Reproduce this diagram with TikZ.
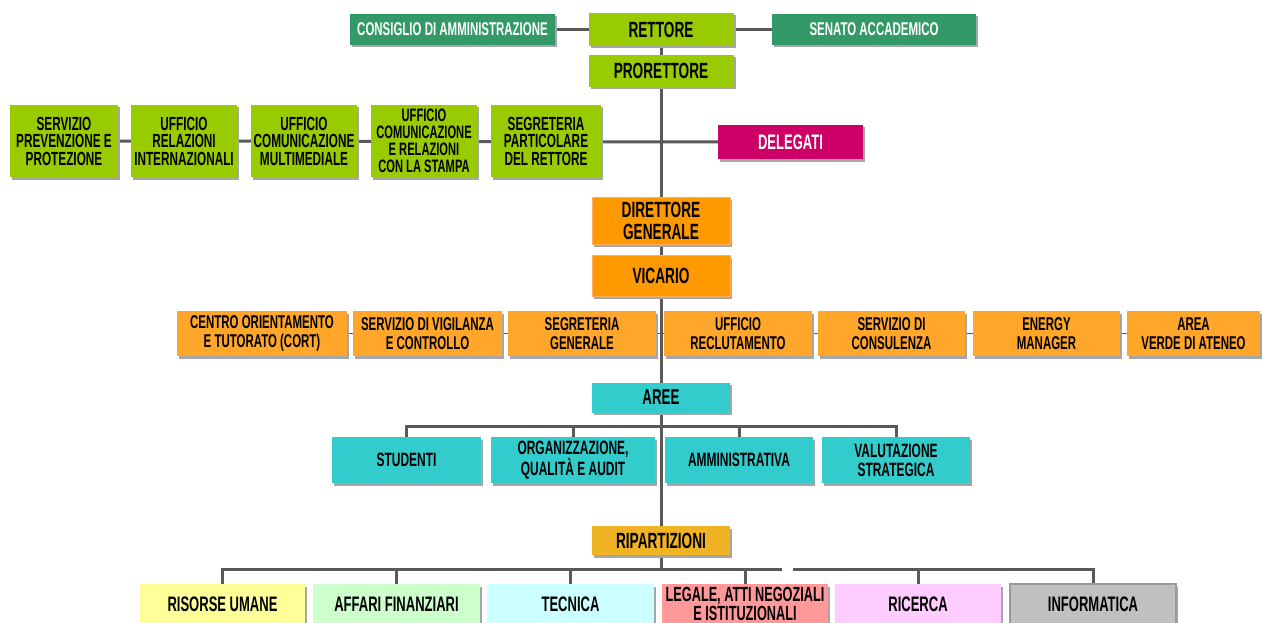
\documentclass[tikz,border=0pt]{standalone}
\usepackage{fontspec}
\newfontfamily\cf[FakeStretch=0.62]{Liberation Sans}
\usetikzlibrary{shadows}
\definecolor{lgreen}{HTML}{99CC00}
\definecolor{dgreen}{HTML}{339966}
\definecolor{magen}{HTML}{CC0066}
\definecolor{dorange}{HTML}{FF9900}
\definecolor{dorborder}{HTML}{FFB066}
\definecolor{lorange}{HTML}{FFA62B}
\definecolor{cyanbox}{HTML}{33CCCC}
\definecolor{gold}{HTML}{F0B323}
\definecolor{cyel}{HTML}{FFFF99}
\definecolor{cgrn}{HTML}{CCFFCC}
\definecolor{ccya}{HTML}{CCFFFF}
\definecolor{cred}{HTML}{FF9999}
\definecolor{cpnk}{HTML}{FFCCFF}
\definecolor{cgry}{HTML}{C0C0C0}
\definecolor{cgryb}{HTML}{999999}
\definecolor{linegray}{HTML}{595959}
\pgfdeclarelayer{bg}
\pgfsetlayers{bg,main}
\begin{document}
\begin{tikzpicture}[x=1pt,y=-1pt,
  box/.style={inner sep=0pt, outer sep=0pt, align=center,
    drop shadow={shadow xshift=2pt,shadow yshift=-2.5pt,fill=black!35,opacity=1}},
  fs/.style 2 args={font={\cf\bfseries\fontsize{#1}{#2}\selectfont}},
  sz/.style 2 args={minimum width=#1pt, minimum height=#2pt},
  gbox/.style={box, fill=lgreen, text=black},
  dbox/.style={box, fill=dgreen, text=white},
  mbox/.style={box, fill=magen, text=white},
  obox/.style={box, fill=dorange, draw=dorborder, line width=1pt, text=black},
  lobox/.style={box, fill=lorange, text=black},
  cbox/.style={box, fill=cyanbox, text=black},
  rbox/.style={box, fill=gold, text=black},
  conn/.style={draw=linegray, line width=3pt},
  thinconn/.style={draw=linegray, line width=1.5pt}
]
\useasboundingbox (0,0) rectangle (1263,623);

% top
\node[dbox,fs={18.5}{20},sz={205}{31}] (cons) at (452.5,29.5) {CONSIGLIO DI AMMINISTRAZIONE};
\node[gbox,fs={22}{24},sz={145}{33}] (rett) at (661,29.5) {RETTORE};
\node[dbox,fs={18.5}{20},sz={204}{31}] (sen) at (874,29.5) {SENATO ACCADEMICO};
\node[gbox,fs={22}{24},sz={145}{32}] (pror) at (661,71) {PRORETTORE};

% green row
\node[gbox,fs={19}{17.5},sz={108}{72}] (g1) at (64,141) {SERVIZIO\\PREVENZIONE E\\PROTEZIONE};
\node[gbox,fs={19}{17.5},sz={106}{72}] (g2) at (184,141) {UFFICIO\\RELAZIONI\\INTERNAZIONALI};
\node[gbox,fs={19}{17.5},sz={106}{72}] (g3) at (304,141) {UFFICIO\\COMUNICAZIONE\\MULTIMEDIALE};
\node[gbox,fs={18}{17},sz={106}{72}] (g4) at (424,141) {UFFICIO\\COMUNICAZIONE\\E RELAZIONI\\CON LA STAMPA};
\node[gbox,fs={19}{17.5},sz={110}{72}] (g5) at (546,141) {SEGRETERIA\\PARTICOLARE\\DEL RETTORE};
\node[mbox,fs={21}{22},sz={145}{34}] (deleg) at (790.5,142) {DELEGATI};

% direzione
\node[obox,fs={22}{22},sz={138}{47}] (dir) at (661,220.5) {DIRETTORE\\GENERALE};
\node[obox,fs={22}{24},sz={138}{41}] (vic) at (661,275.5) {VICARIO};

% orange row
\node[lobox,fs={18.5}{18.5},sz={170}{45}] (o1) at (262,333.5) {CENTRO ORIENTAMENTO\\E TUTORATO (CORT)};
\node[lobox,fs={18.5}{18.5},sz={149}{45}] (o2) at (427.5,333.5) {SERVIZIO DI VIGILANZA\\E CONTROLLO};
\node[lobox,fs={18.5}{18.5},sz={148}{45}] (o3) at (582,333.5) {SEGRETERIA\\GENERALE};
\node[lobox,fs={18.5}{18.5},sz={148}{45}] (o4) at (738,333.5) {UFFICIO\\RECLUTAMENTO};
\node[lobox,fs={18.5}{18.5},sz={147}{45}] (o5) at (891.5,333.5) {SERVIZIO DI\\CONSULENZA};
\node[lobox,fs={18.5}{18.5},sz={147}{45}] (o6) at (1046.5,333.5) {ENERGY\\MANAGER};
\node[lobox,fs={18.5}{18.5},sz={133}{45}] (o7) at (1193.5,333.5) {AREA\\VERDE DI ATENEO};

% aree
\node[cbox,fs={21.5}{24},sz={138}{30}] (aree) at (661,397.5) {AREE};
\node[cbox,fs={19.3}{19},sz={149}{46}] (a1) at (406.5,460) {STUDENTI};
\node[cbox,fs={19.3}{19},sz={164}{46}] (a2) at (573,460) {ORGANIZZAZIONE,\\QUALITÀ E AUDIT};
\node[cbox,fs={19.3}{19},sz={148}{46}] (a3) at (739,460) {AMMINISTRATIVA};
\node[cbox,fs={19.3}{19},sz={148}{46}] (a4) at (896,460) {VALUTAZIONE\\STRATEGICA};

% ripartizioni
\node[rbox,fs={22}{24},sz={138}{29}] (rip) at (661,540.5) {RIPARTIZIONI};
\node[box,fill=cyel,fs={21}{19},sz={165}{40}] (b1) at (222.5,604) {RISORSE UMANE};
\node[box,fill=cgrn,fs={21}{19},sz={167}{40}] (b2) at (396.5,604) {AFFARI FINANZIARI};
\node[box,fill=ccya,fs={21}{19},sz={167}{40}] (b3) at (570.5,604) {TECNICA};
\node[box,fill=cred,fs={20.5}{18.5},sz={166}{40}] (b4) at (745,604) {LEGALE, ATTI NEGOZIALI\\E ISTITUZIONALI};
\node[box,fill=cpnk,fs={21}{19},sz={166}{40}] (b5) at (918,604) {RICERCA};
\node[box,fill=cgry,draw=cgryb,line width=1.5pt,fs={21}{19},sz={166}{40}] (b6) at (1093,604) {INFORMATICA};

\coordinate (abus) at (661,426);
\coordinate (bbus) at (661,569);
\coordinate (gapL) at (782,569);
\coordinate (gapR) at (793,569);

\begin{pgfonlayer}{bg}
  \draw[conn] (cons) -- (rett);
  \draw[conn] (rett) -- (sen);
  \draw[conn] (rett) -- (pror);
  \draw[conn] (pror.south) -- (rip.north);
  \draw[conn] (g1.east) -- (deleg.west);
  \draw[thinconn] (o1) -- (o2);
  \draw[thinconn] (o2) -- (o3);
  \draw[thinconn] (o3) -- (o4);
  \draw[thinconn] (o4) -- (o5);
  \draw[thinconn] (o5) -- (o6);
  \draw[thinconn] (o6) -- (o7);
  \draw[conn] (a1.north) |- (abus) -| (a4.north);
  \draw[conn] (a2.north) -- (a2.north |- abus);
  \draw[conn] (a3.north) -- (a3.north |- abus);
  \draw[conn] (rip.south) -- (bbus);
  \draw[conn] (b1.north) |- (gapL);
  \draw[conn] (gapR) -| (b6.north);
  \draw[conn] (b2.north) -- (b2.north |- bbus);
  \draw[conn] (b3.north) -- (b3.north |- bbus);
  \draw[conn] (b4.north) -- (b4.north |- bbus);
  \draw[conn] (b5.north) -- (b5.north |- bbus);
\end{pgfonlayer}
\end{tikzpicture}
\end{document}
